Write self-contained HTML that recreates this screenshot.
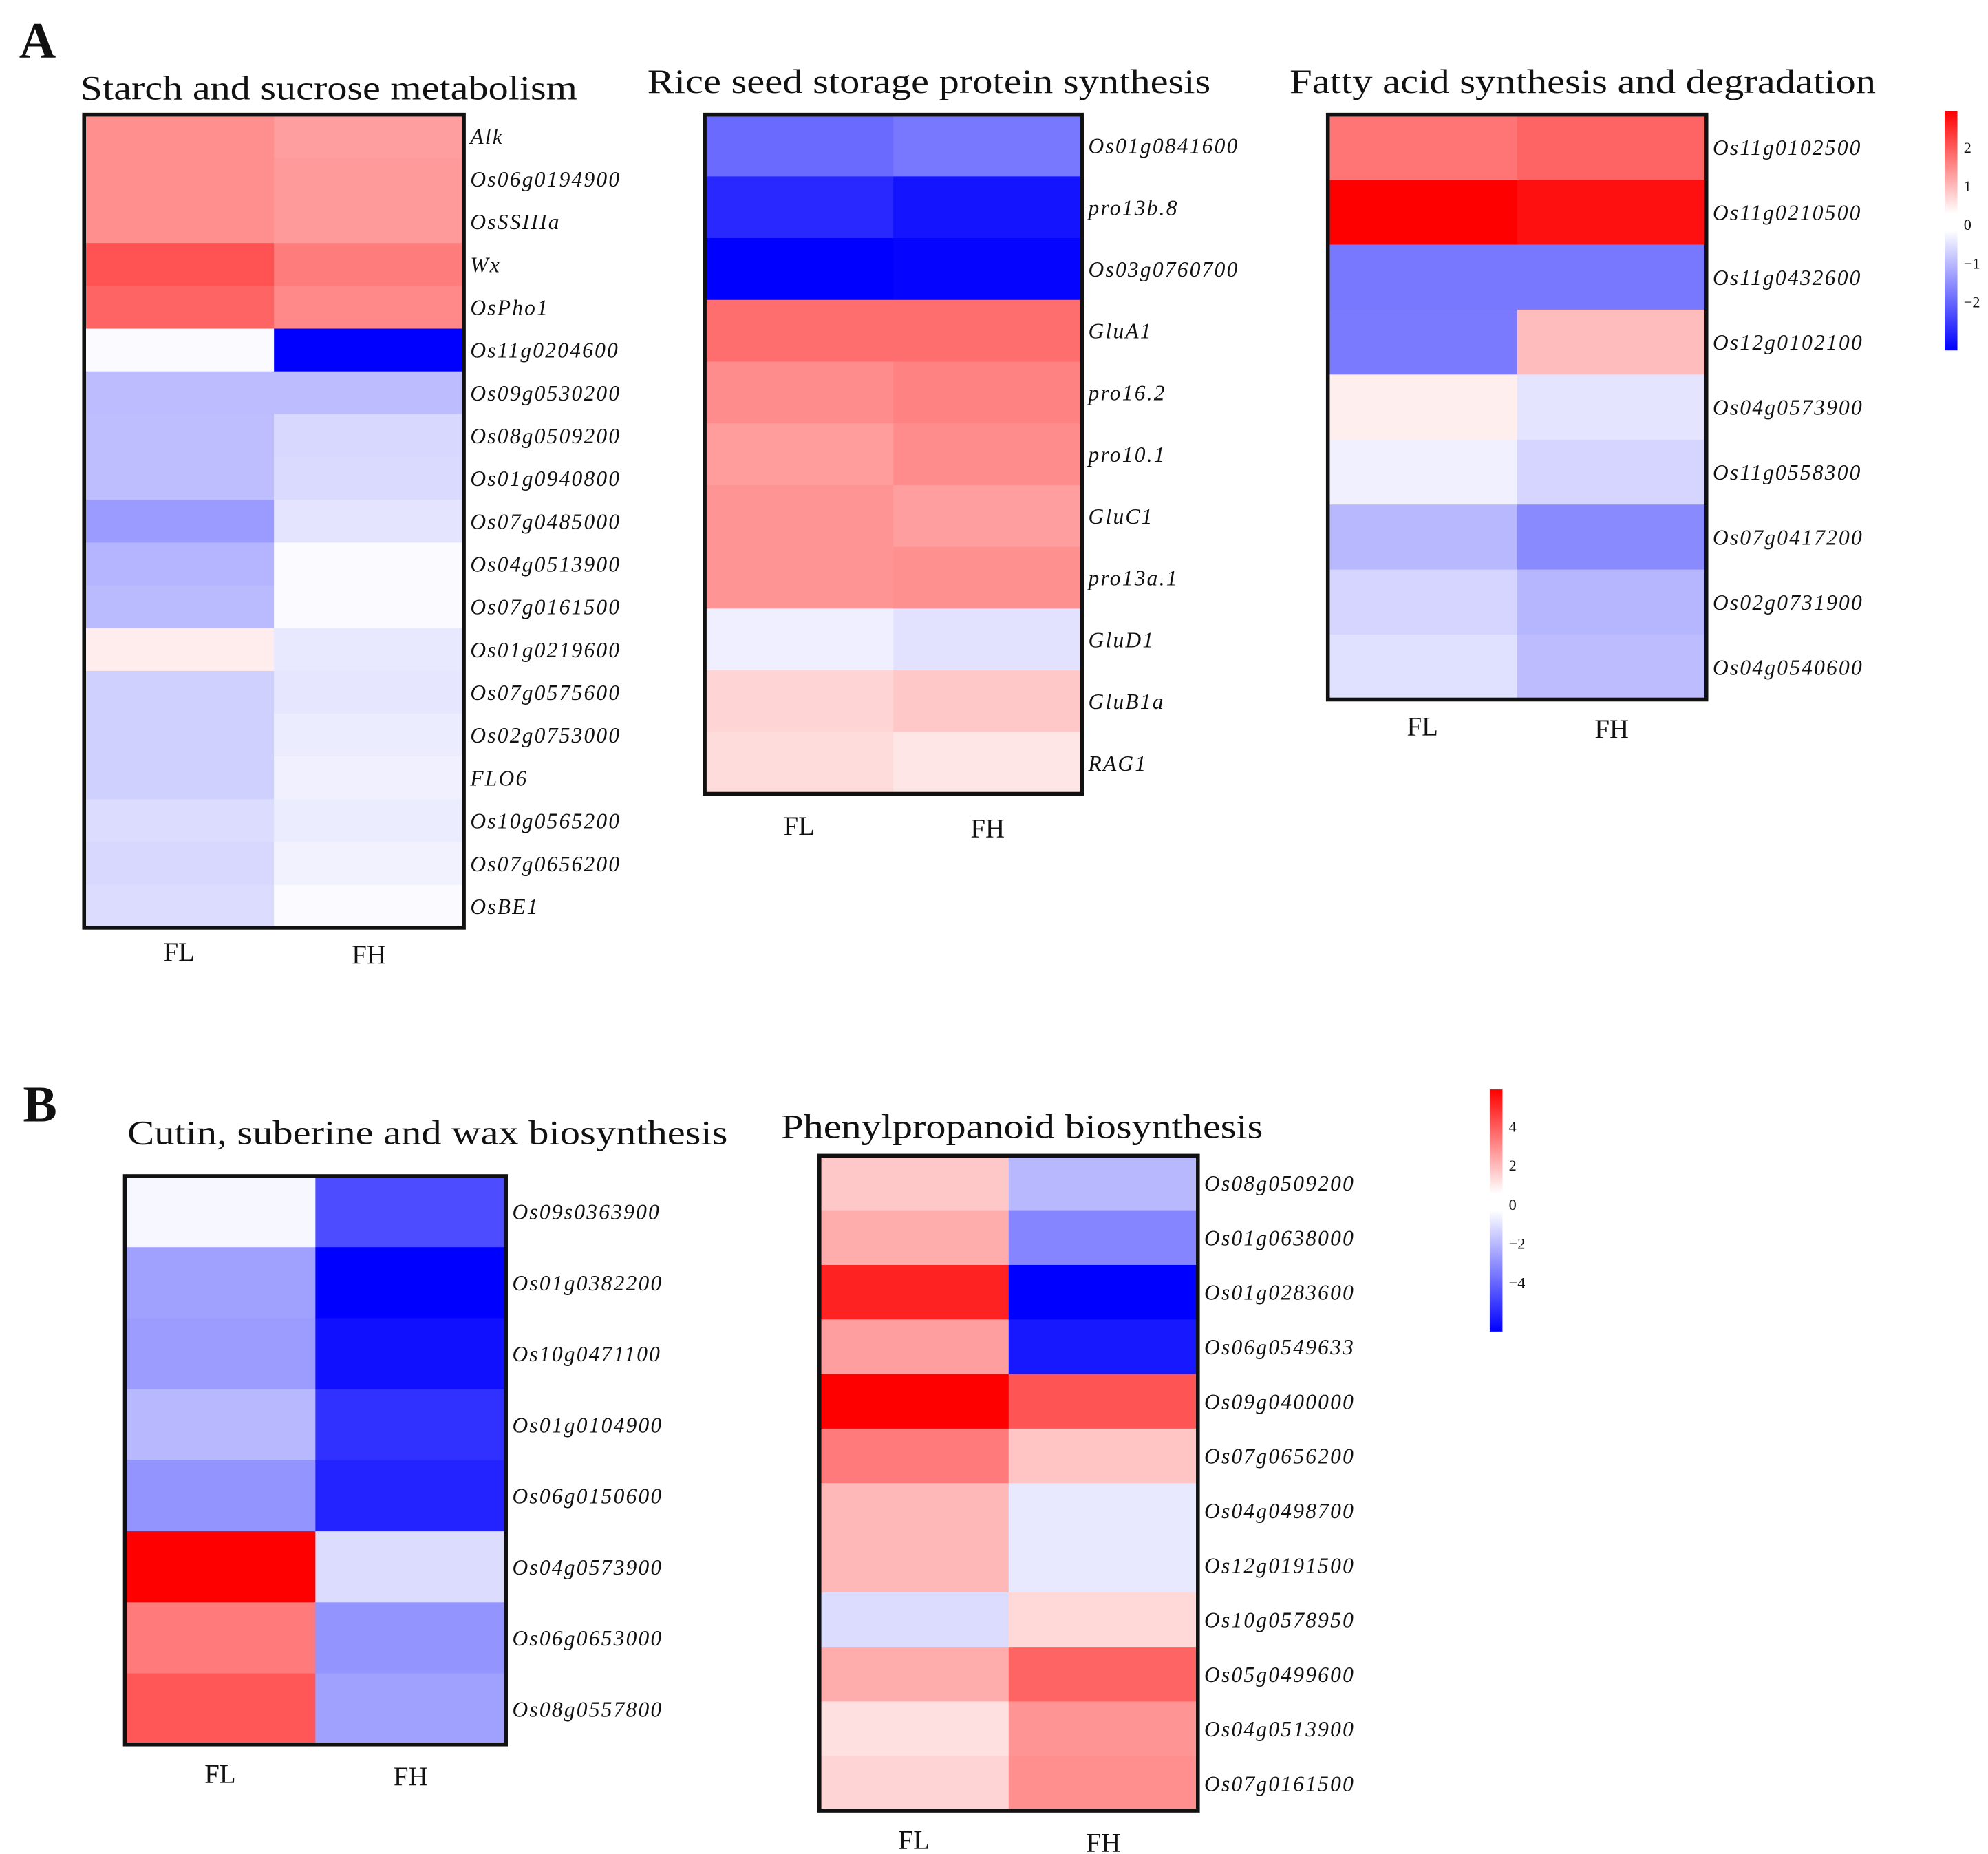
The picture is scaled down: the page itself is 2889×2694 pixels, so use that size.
<!DOCTYPE html>
<html><head><meta charset="utf-8"><style>
html,body{margin:0;padding:0;background:#fff}
svg{display:block}
text{font-family:"Liberation Serif",serif;fill:#111}
.lab{font-style:italic;font-size:17px;letter-spacing:1.2px}
.title{font-size:27px}
.ax{font-size:21px}
.tick{font-size:12px}
</style></head><body>
<svg id="fig" width="2889" height="2694" viewBox="0 0 1560 1455" preserveAspectRatio="none" xmlns="http://www.w3.org/2000/svg">
<text x="15" y="45" style="font-size:40px;font-weight:bold">A</text>
<text x="18" y="880" style="font-size:40px;font-weight:bold">B</text>
<defs>
<linearGradient id="gA" x1="0" y1="0" x2="0" y2="1">
<stop offset="0" stop-color="#ff0000"/><stop offset="0.43" stop-color="#ffffff"/><stop offset="0.5" stop-color="#ffffff"/><stop offset="1" stop-color="#0000ff"/>
</linearGradient>
</defs>
<g id="charts"></g>
</svg>
<script>
const ns="http://www.w3.org/2000/svg";
const samples=["FL","FH"];
const starchGenes=["Alk","Os06g0194900","OsSSIIIa","Wx","OsPho1","Os11g0204600","Os09g0530200","Os08g0509200","Os01g0940800","Os07g0485000","Os04g0513900","Os07g0161500","Os01g0219600","Os07g0575600","Os02g0753000","FLO6","Os10g0565200","Os07g0656200","OsBE1"];
const starchFL=[1.33,1.33,1.33,2.04,1.82,-0.06,-0.79,-0.76,-0.76,-1.19,-0.88,-0.81,0.22,-0.55,-0.55,-0.55,-0.41,-0.46,-0.41];
const starchFH=[1.14,1.19,1.19,1.54,1.4,-3,-0.79,-0.46,-0.44,-0.32,-0.06,-0.06,-0.27,-0.29,-0.22,-0.18,-0.22,-0.15,-0.06];
const seedGenes=["Os01g0841600","pro13b.8","Os03g0760700","GluA1","pro16.2","pro10.1","GluC1","pro13a.1","GluD1","GluB1a","RAG1"];
const seedFL=[-1.75,-2.53,-3,1.71,1.35,1.16,1.26,1.26,-0.19,0.51,0.41];
const seedFH=[-1.59,-2.76,-2.95,1.71,1.47,1.35,1.14,1.31,-0.34,0.65,0.29];
const fattyGenes=["Os11g0102500","Os11g0210500","Os11g0432600","Os12g0102100","Os04g0573900","Os11g0558300","Os07g0417200","Os02g0731900","Os04g0540600"];
const fattyFL=[1.64,3,-1.59,-1.56,0.2,-0.18,-0.84,-0.5,-0.36];
const fattyFH=[1.82,2.81,-1.59,0.79,-0.32,-0.5,-1.38,-0.86,-0.79];
const cutinGenes=["Os09s0363900","Os01g0382200","Os10g0471100","Os01g0104900","Os06g0150600","Os04g0573900","Os06g0653000","Os08g0557800"];
const cutinFL=[-0.15,-1.86,-1.94,-1.39,-2.1,5,2.6,3.3];
const cutinFH=[-3.5,-5,-4.69,-4.06,-4.31,-0.69,-2.1,-1.86];
const phenGenes=["Os08g0509200","Os01g0638000","Os01g0283600","Os06g0549633","Os09g0400000","Os07g0656200","Os04g0498700","Os12g0191500","Os10g0578950","Os05g0499600","Os04g0513900","Os07g0161500"];
const phenFL=[1.08,1.63,4.33,1.9,5,2.6,1.4,1.4,-0.69,1.63,0.61,0.84];
const phenFH=[-1.39,-2.4,-5,-4.53,3.35,1.16,-0.45,-0.45,0.76,3.04,2.1,2.2];
const legendATicks=["2","1","0","\u22121","\u22122"];
const legendBTicks=["4","2","0","\u22122","\u22124"];

const root=document.getElementById("charts");
function mk(tag,attrs,parent){const e=document.createElementNS(ns,tag);for(const k in attrs)e.setAttribute(k,attrs[k]);(parent||root).appendChild(e);return e;}
function color(v,max){let t=Math.min(1,Math.abs(v)/max);const c=Math.round(255*(1-t));return v>=0?`rgb(255,${c},${c})`:`rgb(${c},${c},255)`;}

function heatmap(cfg){
  const g=mk("g",{});
  
  
  const t=mk("text",{x:cfg.tx,y:cfg.ty,class:"title",textLength:cfg.tw,lengthAdjust:"spacingAndGlyphs"},g);t.textContent=cfg.title;
  
  
  const n=cfg.genes.length,h=(cfg.y1-cfg.y0)/n,w=(cfg.x1-cfg.x0)/2;
  const cols=[cfg.fl,cfg.fh];
  for(let c=0;c<2;c++)for(let r=0;r<n;r++){
    const rc=mk("rect",{x:cfg.x0+c*w,y:cfg.y0+r*h,width:w+0.5,height:h+0.5,fill:color(cols[c][r],cfg.max)},g);
    
    
  }
  const b=mk("rect",{x:cfg.x0,y:cfg.y0,width:cfg.x1-cfg.x0,height:cfg.y1-cfg.y0,fill:"none",stroke:"#111","stroke-width":3},g);
  
  
  for(let r=0;r<n;r++){
    const l=mk("text",{x:cfg.x1+5,y:cfg.y0+(r+0.5)*h+6,class:"lab"},g);l.textContent=cfg.genes[r];
    
    
  }
  for(let c=0;c<2;c++){
    const l=mk("text",{x:cfg.x0+(c+0.5)*w,y:cfg.y1+cfg.axdy+(c?2:0),class:"ax","text-anchor":"middle"},g);l.textContent=samples[c];
    
    
  }
}
heatmap({name:"starch-heatmap",title:"Starch and sucrose metabolism",tx:63,ty:78,tw:390,x0:66,x1:364,y0:90,y1:728,genes:starchGenes,fl:starchFL,fh:starchFH,max:3,axdy:26});
heatmap({name:"seed-protein-heatmap",title:"Rice seed storage protein synthesis",tx:508,ty:73,tw:442,x0:553,x1:849,y0:90,y1:623,genes:seedGenes,fl:seedFL,fh:seedFH,max:3,axdy:32});
heatmap({name:"fatty-acid-heatmap",title:"Fatty acid synthesis and degradation",tx:1012,ty:73,tw:460,x0:1042,x1:1339,y0:90,y1:549,genes:fattyGenes,fl:fattyFL,fh:fattyFH,max:3,axdy:28});
heatmap({name:"cutin-heatmap",title:"Cutin, suberine and wax biosynthesis",tx:100,ty:898,tw:471,x0:98,x1:397,y0:923,y1:1369,genes:cutinGenes,fl:cutinFL,fh:cutinFH,max:5,axdy:30});
heatmap({name:"phenylpropanoid-heatmap",title:"Phenylpropanoid biosynthesis",tx:613,ty:893,tw:378,x0:643,x1:940,y0:907,y1:1421,genes:phenGenes,fl:phenFL,fh:phenFH,max:5,axdy:30});

function legend(name,x,y0,y1,ticks,tx){
  const g=mk("g",{});
  
  
  const r=mk("rect",{x:x,y:y0,width:10,height:y1-y0,fill:"url(#gA)"},g);
  
  
  const step=(y1-y0)/6.2;
  for(let i=0;i<ticks.length;i++){
    const t=mk("text",{x:tx,y:y0+step*(i+0.95)+4,class:"tick"},g);t.textContent=ticks[i];
    
    
  }
}
legend("legend-a",1526,87,275,legendATicks,1541);
legend("legend-b",1169,855,1045,legendBTicks,1184);
</script>
</body></html>
